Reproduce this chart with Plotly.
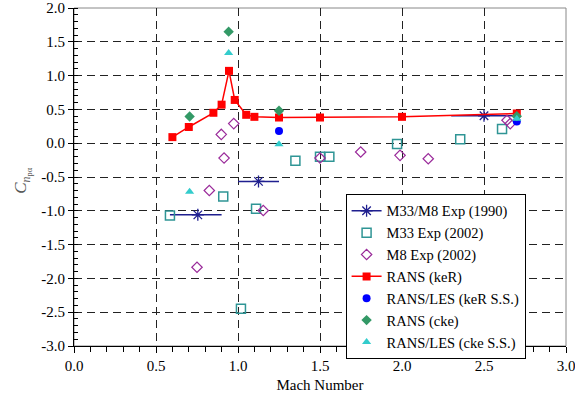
import plotly.graph_objects as go

# ---- data ----
# RANS (keR)
m_ker = [0.60, 0.70, 0.85, 0.90, 0.945, 0.98, 1.05, 1.10, 1.25, 1.50, 2.00, 2.70]
c_ker = [0.09, 0.24, 0.45, 0.57, 1.07, 0.64, 0.42, 0.39, 0.38, 0.38, 0.39, 0.44]

# M33/M8 Exp (1990): centre value and Mach range ends
m_1990 = [0.755, 1.125, 2.50]
m_1990_lo = [0.585, 1.00, 2.30]
m_1990_hi = [0.900, 1.25, 2.70]
c_1990 = [-1.06, -0.565, 0.405]

# M33 Exp (2002)
m_m33 = [0.585, 0.91, 1.018, 1.11, 1.35, 1.50, 1.557, 1.97, 2.355, 2.61]
c_m33 = [-1.07, -0.79, -2.45, -0.97, -0.26, -0.20, -0.20, -0.01, 0.06, 0.21]

# M8 Exp (2002)
m_m8 = [0.75, 0.825, 0.898, 0.915, 0.974, 1.154, 1.50, 1.748, 1.988, 2.16, 2.64, 2.66]
c_m8 = [-1.835, -0.70, 0.13, -0.22, 0.29, -0.995, -0.22, -0.13, -0.18, -0.23, 0.34, 0.29]

# RANS/LES (keR S.S.)
m_ker_ss = [1.25, 2.70]
c_ker_ss = [0.18, 0.32]

# RANS (cke)
m_cke = [0.705, 0.943, 1.25, 2.70]
c_cke = [0.395, 1.65, 0.48, 0.40]

# RANS/LES (cke S.S.)
m_cke_ss = [0.705, 0.943, 1.25, 2.70]
c_cke_ss = [-0.72, 1.335, -0.015, 0.36]

x_ticks = [0.0, 0.5, 1.0, 1.5, 2.0, 2.5, 3.0]
y_ticks = [-3.0, -2.5, -2.0, -1.5, -1.0, -0.5, 0.0, 0.5, 1.0, 1.5, 2.0]

FONT = "'Liberation Serif'"
NAVY = "#1f1f8f"

# build 1990 segments: centre -> lo -> hi, gap
x90, y90, col90 = [], [], []
for m, lo, hi, c in zip(m_1990, m_1990_lo, m_1990_hi, c_1990):
    x90 += [m, lo, hi, None]
    y90 += [c, c, c, None]
    col90 += [NAVY, "rgba(0,0,0,0)", "rgba(0,0,0,0)", "rgba(0,0,0,0)"]

fig = go.Figure()

fig.add_trace(go.Scatter(
    x=x90, y=y90, mode="lines+markers", name="M33/M8 Exp (1990)",
    line=dict(color=NAVY, width=1.5),
    marker=dict(symbol="asterisk-open", size=10, color=col90,
                line=dict(width=1.3)),
    connectgaps=False))

fig.add_trace(go.Scatter(
    x=m_m33, y=c_m33, mode="markers", name="M33 Exp (2002)",
    marker=dict(symbol="square-open", size=9, color="#2f9595",
                line=dict(width=1.5))))

fig.add_trace(go.Scatter(
    x=m_m8, y=c_m8, mode="markers", name="M8 Exp (2002)",
    marker=dict(symbol="diamond-open", size=8, color="#9a2a9a",
                line=dict(width=1.2))))

fig.add_trace(go.Scatter(
    x=m_ker, y=c_ker, mode="lines+markers", name="RANS (keR)",
    line=dict(color="#ff0000", width=1.5),
    marker=dict(symbol="square", size=8, color="#ff0000")))

fig.add_trace(go.Scatter(
    x=m_ker_ss, y=c_ker_ss, mode="markers", name="RANS/LES (keR S.S.)",
    marker=dict(symbol="circle", size=8, color="#0000ff")))

fig.add_trace(go.Scatter(
    x=m_cke, y=c_cke, mode="markers", name="RANS (cke)",
    marker=dict(symbol="diamond", size=8, color="#339966")))

fig.add_trace(go.Scatter(
    x=m_cke_ss, y=c_cke_ss, mode="markers", name="RANS/LES (cke S.S.)",
    marker=dict(symbol="triangle-up", size=8, color="#33cccc")))

grid = dict(showgrid=True, gridcolor="#222222", gridwidth=1, griddash="8px,5px")

fig.update_xaxes(
    range=[0, 3], tickvals=x_ticks, ticktext=[f"{v:.1f}" for v in x_ticks],
    ticks="outside", ticklen=6, tickcolor="black", showline=True,
    linecolor="black", linewidth=1, zeroline=False, automargin=False,
    ticklabeloverflow="allow",
    minor=dict(dtick=0.1, ticks="outside", ticklen=5, tickcolor="black", showgrid=False),
    title=dict(text="Mach Number", font=dict(family=FONT, size=15, color="black"), standoff=6),
    tickfont=dict(family=FONT, size=15, color="black"), **grid)

fig.update_yaxes(
    range=[-3, 2], tickvals=y_ticks, ticktext=[f"{v:.1f}" for v in y_ticks],
    ticks="outside", ticklen=5, tickcolor="black", showline=True,
    linecolor="black", linewidth=1, zeroline=False, automargin=False,
    ticklabeloverflow="allow",
    minor=dict(dtick=0.1, ticks="inside", ticklen=4, tickcolor="black", showgrid=False),
    tickfont=dict(family=FONT, size=15, color="black"), **grid)

fig.add_annotation(
    text="<i>C</i><sub><i>n</i><sub>pα</sub></sub>", textangle=-90,
    xref="paper", yref="paper", x=-0.105, y=0.49,
    xanchor="center", yanchor="middle", showarrow=False,
    font=dict(family=FONT, size=17, color="#555555"))

fig.add_shape(type="rect", xref="paper", yref="paper", x0=0, y0=0, x1=1, y1=1,
              line=dict(color="#888888", width=1), layer="below")

fig.update_layout(
    width=575, height=402,
    margin=dict(l=74, r=9, t=8, b=56),
    paper_bgcolor="white", plot_bgcolor="white",
    font=dict(family=FONT, size=15, color="black"),
    showlegend=True,
    legend=dict(x=0.552, y=0.45, xanchor="left", yanchor="top",
                bgcolor="white", bordercolor="black", borderwidth=1,
                font=dict(family=FONT, size=14.5, color="black"),
                tracegroupgap=0, itemwidth=30),
)

fig.write_html("out.html")
